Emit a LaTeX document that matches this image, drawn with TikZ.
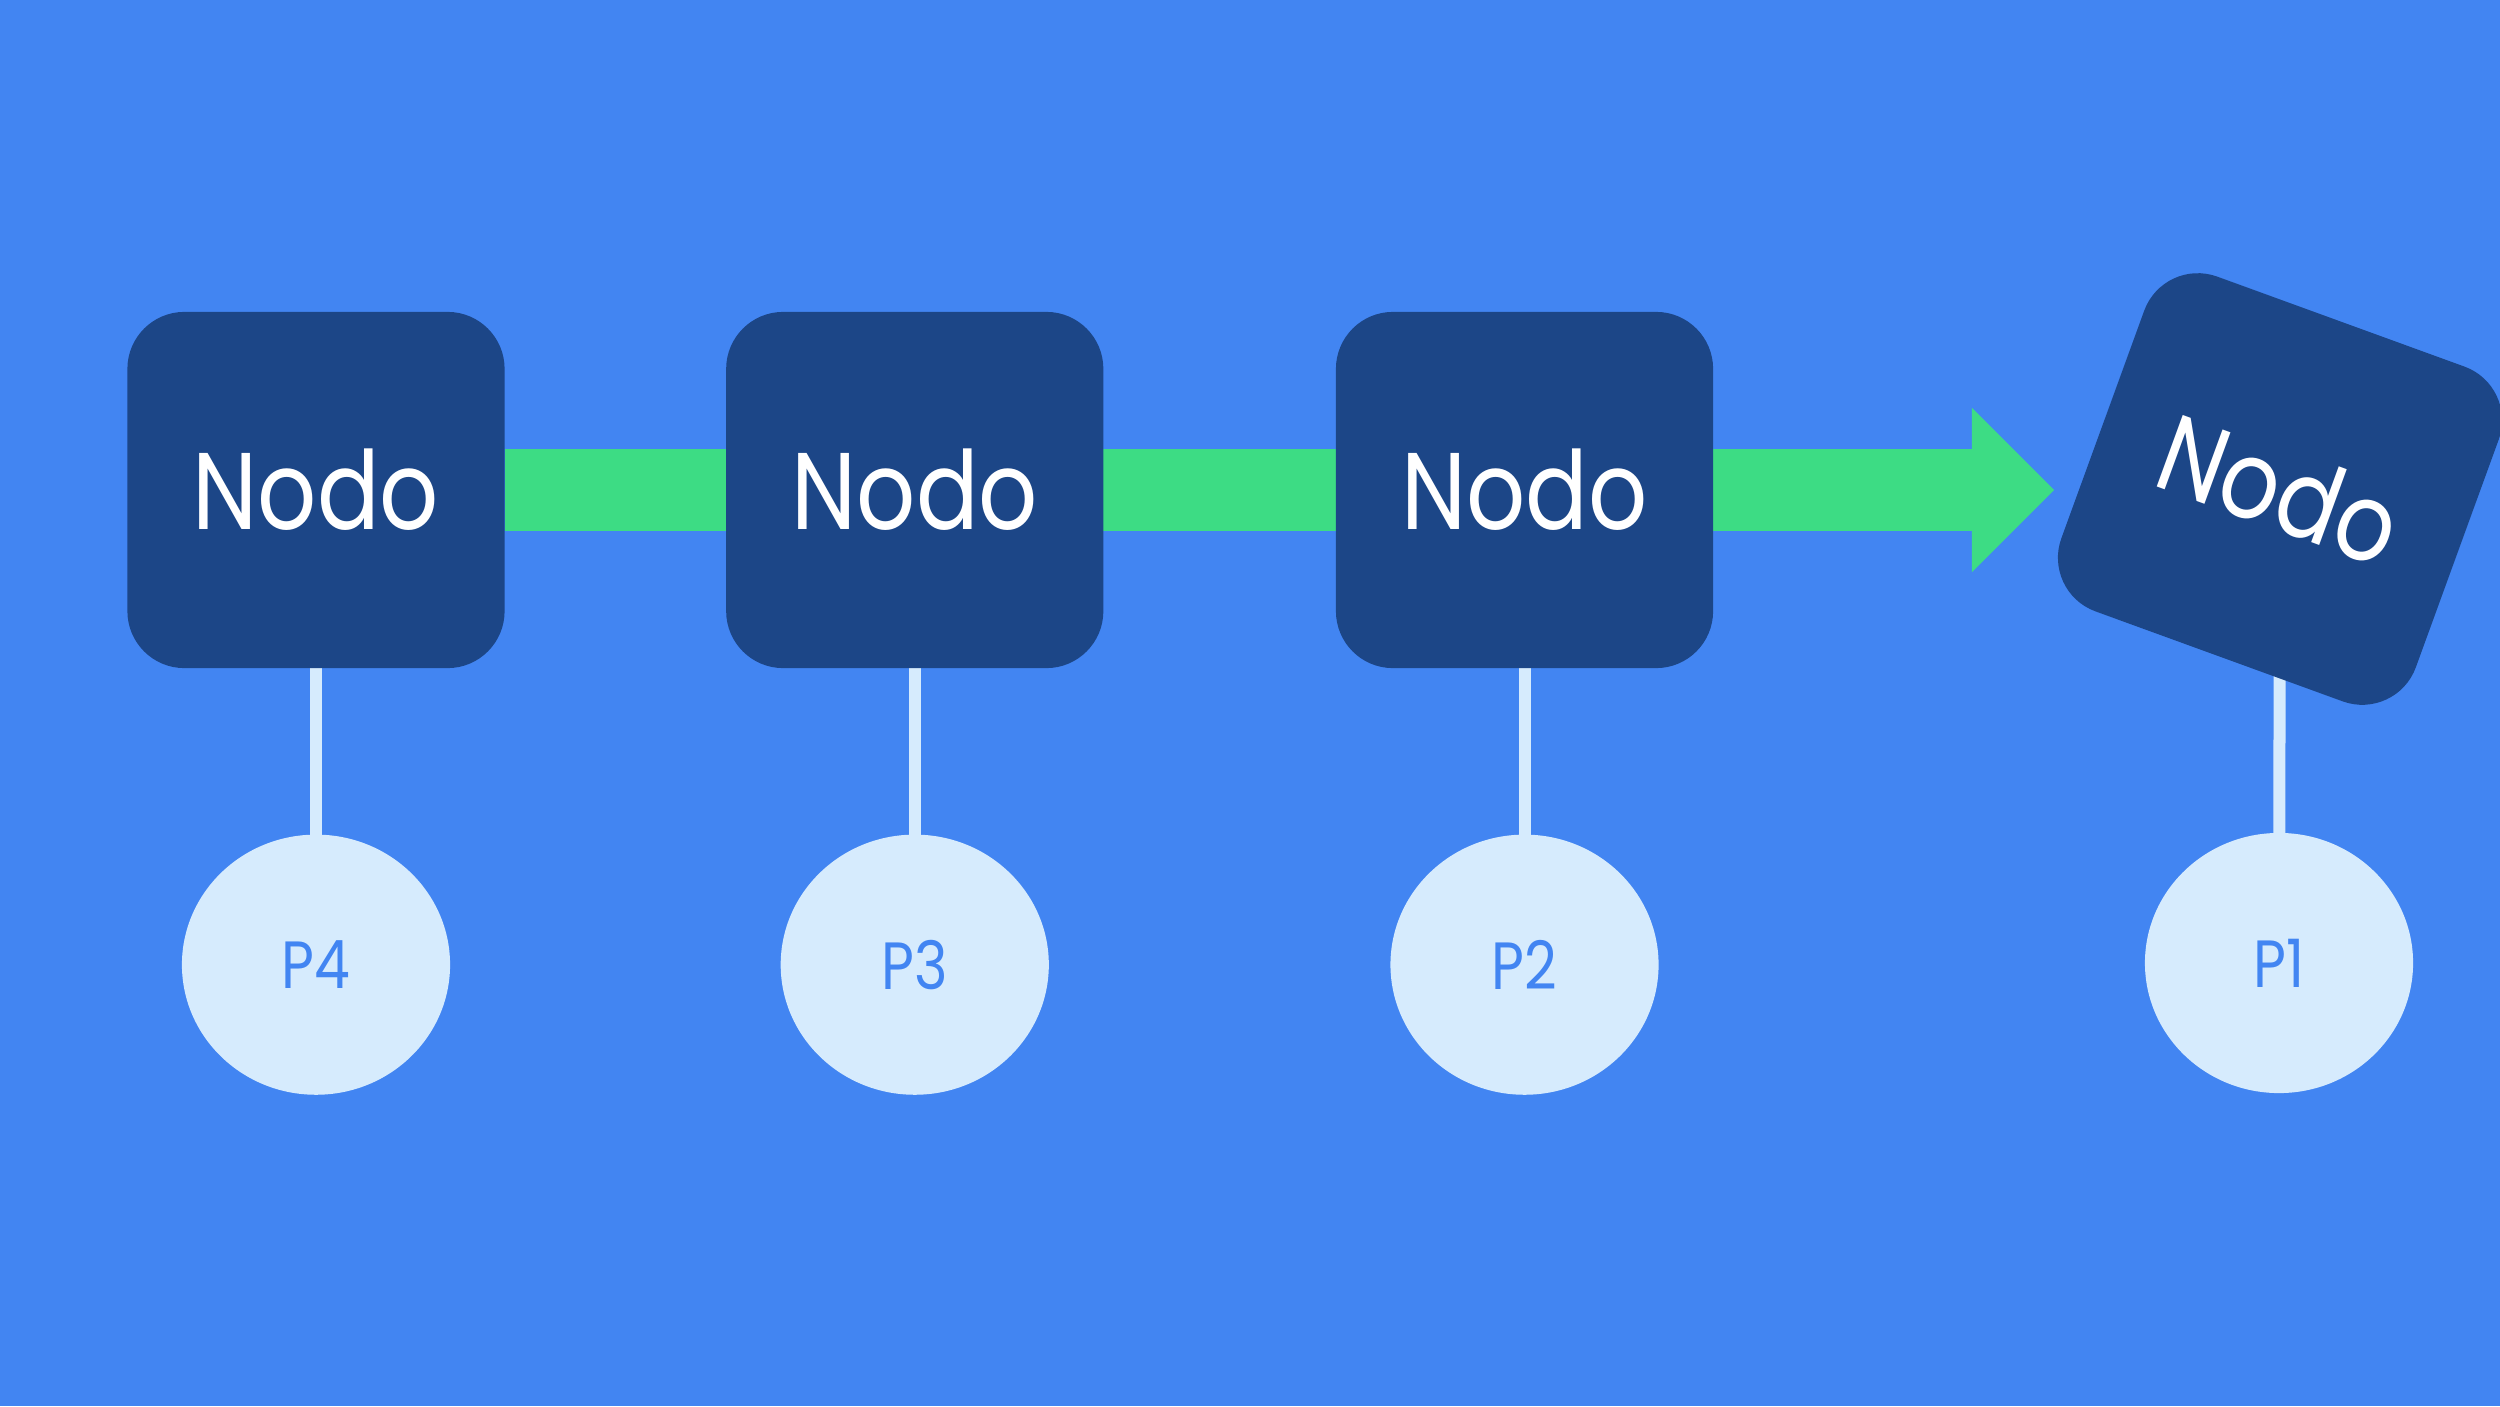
\documentclass[tikz,border=0pt]{standalone}
\usepackage{fontspec}
\setmainfont{Poppins}[FakeStretch=0.85]
\usetikzlibrary{positioning,arrows.meta,shapes.geometric}

\definecolor{bgblue}{HTML}{4285F2}
\definecolor{nodeblue}{HTML}{1C4687}
\definecolor{flowgreen}{HTML}{3DDC84}
\definecolor{pale}{HTML}{D6EBFD}

\pgfdeclarelayer{back}
\pgfdeclarelayer{links}
\pgfsetlayers{back,links,main}

\begin{document}
\begin{tikzpicture}[x=0.01cm,y=-0.01cm]
        \tikzstyle{nodo}=[rectangle,rounded corners=5.7mm,fill=nodeblue,text=white,minimum width=3.77cm,minimum height=3.56cm,inner sep=0pt,font=\fontsize{31}{37}\selectfont]
        \tikzstyle{peer}=[ellipse,fill=pale,text=bgblue,minimum width=2.68cm,minimum height=2.6cm,inner sep=0pt,font=\fontsize{19}{23}\selectfont]
        \tikzstyle{stem}=[draw=pale,line width=1.2mm]
        \tikzstyle{flow}=[draw=flowgreen,line width=8.1mm,-{Triangle[length=8.2mm 0 0,width=16.4mm 0 0,line width=0pt]}]
        \useasboundingbox (0,0) rectangle (2500,1406);
        \begin{pgfonlayer}{back}
            \fill[bgblue] (0,0) rectangle (2500,1406);
        \end{pgfonlayer}
        \node[nodo] (n4) at (316,490) {Nodo};
        \node[nodo,right=2.2cm of n4] (n3) {Nodo};
        \node[nodo,right=2.31cm of n3] (n2) {Nodo};
        \node[nodo,rotate=-20] (n1) at (2280,489) {Nodo};
        \node[peer,below=1.65cm of n4] (p4) {P4};
        \node[peer,below=1.65cm of n3] (p3) {P3};
        \node[peer,below=1.65cm of n2] (p2) {P2};
        \node[peer] (p1) at (2279,963) {P1};
        \coordinate (tip) at (2054,490);
        \begin{pgfonlayer}{links}
            \draw[flow] (n4.east) -- (tip);
            \foreach \i in {1,...,4} \draw[stem] (n\i.center) -- (p\i.center);
        \end{pgfonlayer}
\end{tikzpicture}
\end{document}
